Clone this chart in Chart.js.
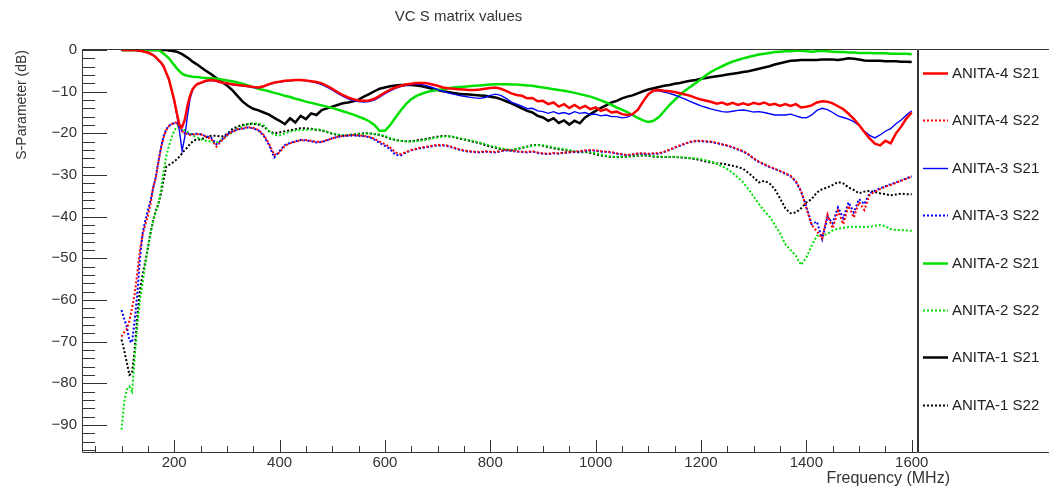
<!DOCTYPE html>
<html>
<head>
<meta charset="utf-8">
<title>VC S matrix values</title>
<script src="https://cdn.jsdelivr.net/npm/chart.js@4.4.1/dist/chart.umd.min.js"></script>
<style>
  html, body { margin: 0; padding: 0; background: #ffffff; }
</style>
</head>
<body>
<canvas id="chart" width="1049" height="494"></canvas>
<script>
// Sample frequencies (MHz): 5 MHz steps through the steep low end, 10 MHz after that
const freqMHz = [
  100, 105, 110, 115, 120, 125, 130, 135, 140, 145,
  150, 155, 160, 165, 170, 175, 180, 185, 190, 195,
  200, 205, 210, 215, 220, 225, 230, 235, 240, 245,
  250,
  260, 270, 280, 290, 300, 310, 320, 330, 340, 350,
  360, 370, 380, 390, 400, 410, 420, 430, 440, 450,
  460, 470, 480, 490, 500, 510, 520, 530, 540, 550,
  560, 570, 580, 590, 600, 610, 620, 630, 640, 650,
  660, 670, 680, 690, 700, 710, 720, 730, 740, 750,
  760, 770, 780, 790, 800, 810, 820, 830, 840, 850,
  860, 870, 880, 890, 900, 910, 920, 930, 940, 950,
  960, 970, 980, 990, 1000, 1010, 1020, 1030, 1040, 1050,
  1060, 1070, 1080, 1090, 1100, 1110, 1120, 1130, 1140, 1150,
  1160, 1170, 1180, 1190, 1200, 1210, 1220, 1230, 1240, 1250,
  1260, 1270, 1280, 1290, 1300, 1310, 1320, 1330, 1340, 1350,
  1360, 1370, 1380, 1390, 1400, 1410, 1420, 1430, 1440, 1450,
  1460, 1470, 1480, 1490, 1500, 1510, 1520, 1530, 1540, 1550,
  1560, 1570, 1580, 1590, 1600
];

// ANITA-4 S21 (dB)
const s21Anita4 = [
  0, 0, 0, 0, 0, 0, -0.1, -0.2, -0.3, -0.5,
  -0.6, -0.9, -1.2, -1.7, -2.4, -3.0, -3.9, -5.5, -7.0, -9.5,
  -12.0, -15.2, -18.0, -18.5, -16.8, -13.5, -11.0, -9.4, -8.6, -8.1,
  -7.9,
  -7.4, -7.2, -7.4, -7.8, -8.0, -8.2, -8.4, -8.5, -8.7, -8.9,
  -9.0, -8.7, -8.2, -7.8, -7.6, -7.4, -7.3, -7.2, -7.2, -7.3,
  -7.5, -7.7, -8.0, -8.6, -9.3, -10.1, -10.8, -11.4, -11.8, -12.1,
  -12.2, -12.1, -11.7, -11.0, -10.2, -9.5, -9.0, -8.6, -8.3, -8.1,
  -7.9, -7.9, -8.0, -8.3, -8.6, -9.0, -9.2, -9.3, -9.4, -9.5,
  -9.6, -9.6, -9.5, -9.3, -9.1, -9.0, -9.3, -9.8, -10.4, -10.8,
  -11.0, -11.6, -11.5, -12.3, -12.2, -13.0, -12.6, -13.6, -13.0, -13.9,
  -13.2, -14.0, -13.4, -14.2, -13.8, -14.6, -14.2, -15.0, -14.8, -15.4,
  -15.6, -15.4, -14.4, -12.4, -10.6, -9.7, -9.6, -9.8, -9.9, -10.1,
  -10.4, -10.7, -11.0, -11.5, -11.9, -12.2, -12.5, -12.9, -12.6, -13.1,
  -12.7, -13.2, -12.8, -13.2, -12.7, -13.0, -12.6, -13.2, -12.9, -13.4,
  -13.0, -13.4, -13.0, -13.8, -13.6, -13.3, -12.6, -12.3, -12.4, -12.8,
  -13.5, -14.2, -15.3, -16.5, -18.0, -19.7, -21.2, -22.5, -22.9, -21.8,
  -22.4, -20.0, -18.4, -16.4, -15.0
];

// ANITA-4 S22 (dB)
const s22Anita4 = [
  -68.8, -67.8, -67.0, -65.0, -62.0, -58.5, -53.5, -48.0, -44.4, -42.0,
  -39.8, -37.0, -33.0, -30.8, -27.0, -23.5, -21.0, -19.2, -18.3, -17.8,
  -17.5, -17.4, -18.3, -19.5, -20.0, -20.2, -20.4, -20.3, -20.2, -20.2,
  -20.2,
  -20.8, -21.3, -23.2, -21.8, -20.5, -19.6, -19.0, -18.8, -18.5, -18.7,
  -19.2, -20.4, -22.5, -25.2, -24.6, -23.0, -22.4, -22.0, -21.7, -21.6,
  -21.8, -22.0, -22.0, -21.6, -21.2, -20.8, -20.6, -20.5, -20.4, -20.5,
  -20.6, -20.8, -21.3, -22.0, -22.6, -23.4, -24.6, -25.0, -24.5, -24.0,
  -23.7, -23.4, -23.2, -23.0, -22.8, -22.8, -23.0, -23.4, -23.8, -24.1,
  -24.3, -24.4, -24.5, -24.3, -24.4, -24.5, -24.2, -24.0, -24.1, -24.3,
  -24.4, -24.5, -24.3, -24.6, -24.8, -24.9, -24.7, -24.8, -24.6, -24.5,
  -24.4, -24.3, -24.1, -24.0, -24.1, -24.3, -24.4, -24.5, -24.8, -25.0,
  -25.2, -25.0, -24.8, -24.8, -24.9, -24.8, -24.8, -24.4, -23.9, -23.4,
  -22.9, -22.4, -22.0, -21.8, -21.8, -21.9, -22.0, -22.3, -22.6, -22.9,
  -23.3, -23.8, -24.3, -25.0, -26.0, -26.8, -27.4, -28.0, -28.5, -29.0,
  -29.6, -30.2, -31.5, -33.8, -38.0, -42.0, -43.5, -45.2, -39.5, -42.8,
  -38.6, -41.8, -37.4, -40.2, -36.5, -38.4, -34.8, -34.0, -33.4, -32.8,
  -32.4, -31.9, -31.4, -30.9, -30.4
];

// ANITA-3 S21 (dB)
const s21Anita3 = [
  0, 0, 0, 0, 0, -0.1, -0.1, -0.2, -0.3, -0.5,
  -0.7, -1.0, -1.3, -1.8, -2.5, -3.2, -4.2, -5.6, -7.2, -9.6,
  -12.4, -15.6, -19.5, -24.2, -21.0, -16.0, -11.8, -9.6, -8.6, -8.2,
  -8.0,
  -7.5, -7.3, -7.5, -7.9, -8.1, -8.3, -8.5, -8.6, -8.8, -9.0,
  -9.1, -8.8, -8.3, -7.9, -7.7, -7.5, -7.4, -7.3, -7.3, -7.4,
  -7.6, -7.9, -8.3, -8.9, -9.6, -10.4, -11.1, -11.7, -12.1, -12.4,
  -12.5, -12.4, -12.0, -11.3, -10.5, -9.8, -9.2, -8.8, -8.5, -8.3,
  -8.2, -8.3, -8.6, -9.0, -9.5, -9.9, -10.3, -10.6, -10.9, -11.1,
  -11.3, -11.5, -11.6, -11.4, -10.9, -10.6, -10.9, -11.6, -12.5, -13.0,
  -13.5, -14.1, -14.0, -14.6, -14.8, -15.2, -14.8, -15.3, -15.0, -15.4,
  -14.8, -15.2, -15.0, -15.5, -15.4, -15.8, -15.6, -16.0, -16.0, -16.3,
  -16.1, -15.5, -14.2, -12.4, -10.6, -9.8, -9.8, -10.1, -10.4, -10.8,
  -11.3, -11.8, -12.4, -12.9, -13.4, -13.8, -14.2, -14.5, -14.8, -14.9,
  -14.7, -14.5, -14.4, -14.6, -14.9, -14.8, -15.0, -15.3, -15.6, -15.6,
  -15.6, -15.4, -15.8, -16.2, -16.3, -15.6, -14.5, -14.0, -14.3, -15.0,
  -15.8, -16.2, -16.6, -17.2, -18.1, -19.5, -20.5, -21.1, -20.4, -19.5,
  -18.9, -17.7, -16.8, -15.6, -14.6
];

// ANITA-3 S22 (dB)
const s22Anita3 = [
  -62.4, -64.5, -66.4, -69.8, -70.2, -65.0, -58.5, -50.0, -44.0, -41.0,
  -38.5, -36.2, -33.2, -30.5, -26.8, -23.3, -20.6, -19.0, -18.2, -17.8,
  -17.6, -17.6, -18.3, -19.4, -20.0, -20.0, -20.2, -20.2, -20.1, -20.1,
  -20.2,
  -20.7, -21.0, -22.6, -21.6, -20.3, -19.6, -19.1, -18.9, -18.6, -18.8,
  -19.3, -20.6, -22.8, -25.8, -24.3, -22.8, -22.3, -21.9, -21.6, -21.7,
  -21.9, -22.2, -22.1, -21.7, -21.2, -20.9, -20.7, -20.6, -20.5, -20.6,
  -20.7, -20.9, -21.5, -22.3, -23.0, -23.8, -25.2, -25.3, -24.6, -24.1,
  -23.8, -23.5, -23.3, -23.1, -22.9, -22.9, -23.1, -23.5, -23.9, -24.2,
  -24.4, -24.5, -24.6, -24.4, -24.5, -24.6, -24.3, -24.1, -24.2, -24.4,
  -24.5, -24.6, -24.4, -24.7, -24.9, -25.0, -24.8, -24.9, -24.7, -24.6,
  -24.5, -24.4, -24.2, -24.1, -24.2, -24.4, -24.5, -24.6, -24.9, -25.1,
  -25.3, -25.1, -24.9, -24.9, -25.0, -24.9, -24.9, -24.5, -24.0, -23.5,
  -23.0, -22.5, -22.1, -21.9, -21.9, -22.0, -22.1, -22.4, -22.7, -23.0,
  -23.4, -23.9, -24.4, -25.1, -26.1, -26.9, -27.5, -28.1, -28.6, -29.1,
  -29.7, -30.3, -31.6, -34.0, -37.6, -41.8, -41.2, -45.4, -40.0, -41.6,
  -37.8, -40.4, -36.6, -39.0, -35.8, -37.0, -34.4, -33.8, -33.2, -32.7,
  -32.2, -31.8, -31.3, -30.8, -30.3
];

// ANITA-2 S21 (dB)
const s21Anita2 = [
  0, 0, 0, 0, 0, 0, 0, 0, 0, 0,
  0, 0, 0, 0, 0, -0.4, -0.9, -1.4, -2.0, -2.8,
  -3.6, -4.4, -5.1, -5.7, -6.0, -6.2, -6.3, -6.4, -6.5, -6.5,
  -6.6,
  -6.7, -6.8, -6.9, -7.1, -7.3, -7.5, -7.8, -8.1, -8.5, -8.9,
  -9.3, -9.6, -9.9, -10.3, -10.6, -11.0, -11.3, -11.7, -12.0, -12.4,
  -12.7, -13.0, -13.3, -13.6, -13.9, -14.3, -14.7, -15.1, -15.5, -16.0,
  -16.5, -17.1, -18.0, -19.4, -19.4, -18.0, -16.2, -14.5, -13.0, -11.8,
  -11.0, -10.5, -10.1, -9.8, -9.6, -9.4, -9.2, -9.0, -8.9, -8.8,
  -8.7, -8.6, -8.5, -8.4, -8.3, -8.2, -8.2, -8.2, -8.3, -8.3,
  -8.4, -8.5, -8.6, -8.8, -9.0, -9.2, -9.4, -9.6, -9.8, -10.0,
  -10.3, -10.6, -10.9, -11.2, -11.6, -12.1, -12.6, -13.2, -13.8, -14.3,
  -14.9, -15.6, -16.3, -16.9, -17.3, -17.0, -16.1, -14.7, -13.2, -12.0,
  -10.8, -9.7, -8.8, -7.9, -7.0, -6.0, -5.2, -4.5, -3.9, -3.3,
  -2.8, -2.4, -2.0, -1.7, -1.4, -1.1, -0.9, -0.7, -0.5, -0.4,
  -0.3, -0.3, -0.2, -0.2, -0.3, -0.4, -0.3, -0.2, -0.3, -0.4,
  -0.5, -0.5, -0.6, -0.6, -0.7, -0.7, -0.7, -0.8, -0.8, -0.8,
  -0.9, -0.9, -0.9, -0.9, -1.0
];

// ANITA-2 S22 (dB)
const s22Anita2 = [
  -91.1, -84.5, -81.5, -80.8, -82.0, -74.0, -66.0, -60.0, -56.0, -51.5,
  -47.5, -44.0, -41.0, -39.0, -37.0, -33.5, -29.0, -25.5, -23.0, -21.0,
  -19.4, -18.4, -18.2, -18.8, -19.3, -19.7, -20.0, -20.4, -20.8, -21.1,
  -21.4,
  -21.8, -22.0, -22.2, -21.6, -20.6, -19.8, -18.8, -18.2, -17.8, -17.6,
  -17.7, -18.1, -19.4, -20.4, -20.5, -20.0, -19.6, -19.3, -19.2, -19.2,
  -19.1, -19.0, -19.2, -19.6, -20.0, -20.3, -20.4, -20.4, -20.3, -20.2,
  -20.1, -20.0, -20.1, -20.3, -20.6, -21.2, -21.6, -21.8, -21.9, -22.0,
  -21.9, -21.7, -21.5, -21.2, -21.0, -20.8, -20.7, -20.8, -21.1, -21.4,
  -21.6, -21.9, -22.2, -22.6, -23.0, -23.3, -23.6, -23.8, -24.0, -23.7,
  -23.4, -23.2, -23.0, -22.8, -22.9, -23.1, -23.4, -23.6, -23.8, -24.0,
  -24.3, -24.5, -24.4, -24.5, -24.8, -25.1, -25.4, -25.6, -25.6, -25.6,
  -25.5, -25.4, -25.3, -25.2, -25.3, -25.5, -25.6, -25.6, -25.6, -25.6,
  -25.7, -25.8, -25.9, -26.0, -26.2, -26.5, -26.8, -27.3, -27.9, -28.6,
  -29.5, -30.6, -31.8, -33.4, -35.2, -37.0, -38.6, -40.0, -42.0, -44.0,
  -46.6, -48.0, -49.4, -51.6, -49.8, -47.0, -44.6, -44.5, -44.2, -43.3,
  -42.9, -42.7, -42.5, -42.4, -42.4, -42.5, -42.4, -42.2, -42.0, -42.3,
  -43.0, -43.2, -43.2, -43.3, -43.4
];

// ANITA-1 S21 (dB)
const s21Anita1 = [
  0, 0, 0, 0, 0, 0, 0, 0, 0, 0,
  0, 0, 0, 0, 0, 0, 0, 0, -0.1, -0.2,
  -0.3, -0.4, -0.7, -1.0, -1.4, -1.8, -2.3, -2.8, -3.2, -3.6,
  -4.1,
  -5.0, -5.8, -6.7, -7.6, -8.5, -9.6, -11.0, -12.4, -13.4, -14.1,
  -14.5, -15.0, -15.5, -16.3, -17.0, -17.8, -16.4, -17.4, -15.8, -16.6,
  -15.2, -15.6, -14.4, -14.0, -13.6, -13.2, -12.8, -12.6, -12.3, -11.9,
  -11.2, -10.6, -9.9, -9.3, -9.0, -8.7, -8.5, -8.4, -8.4, -8.4,
  -8.5, -8.7, -9.0, -9.3, -9.6, -9.9, -10.1, -10.3, -10.5, -10.6,
  -10.7, -10.8, -10.9, -11.0, -11.2, -11.4, -11.8, -12.3, -12.8, -13.4,
  -14.0, -14.6, -15.0, -15.8, -16.2, -17.0, -16.4, -17.5, -16.9, -17.9,
  -17.0, -17.6, -16.2, -15.4, -14.6, -13.9, -13.3, -12.6, -12.2, -11.6,
  -11.2, -10.9, -10.4, -9.9, -9.5, -9.2, -8.9, -8.6, -8.4, -8.1,
  -7.9, -7.6, -7.4, -7.2, -6.9, -6.7, -6.5, -6.3, -6.1, -5.9,
  -5.7, -5.5, -5.3, -5.1, -4.8, -4.5, -4.2, -3.9, -3.5, -3.2,
  -2.9, -2.6, -2.5, -2.4, -2.4, -2.4, -2.4, -2.3, -2.3, -2.3,
  -2.4, -2.2, -2.0, -2.1, -2.3, -2.5, -2.6, -2.6, -2.6, -2.7,
  -2.7, -2.7, -2.8, -2.8, -2.9
];

// ANITA-1 S22 (dB)
const s22Anita1 = [
  -69.5, -72.0, -75.0, -78.0, -77.6, -72.0, -64.0, -57.5, -54.0, -51.0,
  -47.5, -44.0, -41.0, -38.5, -37.0, -34.5, -31.0, -28.0, -27.6, -27.2,
  -26.8, -26.2, -25.6, -24.8, -24.0, -23.4, -22.6, -22.0, -21.6, -21.5,
  -21.5,
  -21.0, -20.6, -20.6, -20.8, -20.2, -19.0, -18.4, -18.0, -17.8, -17.7,
  -17.9, -18.4, -19.5, -20.0, -19.8, -19.5, -19.3, -19.0, -18.8, -18.8,
  -18.9, -19.2, -19.3, -19.7, -20.1, -20.4, -20.5, -20.4, -20.3, -20.1,
  -20.0, -20.0, -20.2, -20.4, -20.8, -21.3, -21.6, -21.8, -21.9, -21.9,
  -21.7, -21.5, -21.3, -21.0, -20.8, -20.6, -20.7, -20.9, -21.2, -21.5,
  -21.8, -22.1, -22.4, -22.8, -23.2, -23.5, -23.8, -24.0, -24.1, -23.8,
  -23.5, -23.2, -22.8, -22.8, -23.0, -23.3, -23.6, -23.8, -24.0, -24.2,
  -24.4, -24.6, -24.5, -24.7, -25.0, -25.3, -25.5, -25.7, -25.7, -25.7,
  -25.6, -25.5, -25.4, -25.3, -25.4, -25.6, -25.7, -25.7, -25.7, -25.7,
  -25.8, -25.9, -26.0, -26.2, -26.5, -26.8, -27.0, -27.2, -27.3, -27.5,
  -27.8, -28.1, -28.5, -29.5, -30.6, -31.8, -31.4, -32.0, -33.4, -35.6,
  -38.0, -39.2, -39.0, -38.0, -36.6, -35.8, -34.2, -33.4, -33.0, -32.4,
  -31.7, -32.0, -33.0, -33.6, -34.4, -34.0, -33.8, -34.1, -34.4, -34.6,
  -34.9, -34.7, -34.5, -34.6, -34.6
];

// Axis ranges, ticks and tick labels
const X_MIN = 25, X_MAX = 1610;
const Y_MIN = -96.5, Y_MAX = 0.24;
const freqTicks = [200, 400, 600, 800, 1000, 1200, 1400, 1600];
const freqTickLabels = ['200', '400', '600', '800', '1000', '1200', '1400', '1600'];
const freqMinorTicks = [50, 100, 150, 250, 300, 350, 450, 500, 550, 650, 700, 750,
  850, 900, 950, 1050, 1100, 1150, 1250, 1300, 1350, 1450, 1500, 1550];
const dbTicks = [0, -10, -20, -30, -40, -50, -60, -70, -80, -90];
const dbTickLabels = ['0', '\u221210', '\u221220', '\u221230', '\u221240', '\u221250',
  '\u221260', '\u221270', '\u221280', '\u221290'];
const dbMinorTicks = [
  -2, -4, -6, -8, -12, -14, -16, -18, -22, -24, -26, -28, -32, -34, -36, -38,
  -42, -44, -46, -48, -52, -54, -56, -58, -62, -64, -66, -68, -72, -74, -76, -78,
  -82, -84, -86, -88, -92, -94, -96
];

const FONT = '"Liberation Sans", Arial, Helvetica, sans-serif';
const TEXT = '#333333';
const AXIS = '#333333';

const seriesDefs = [
  { label: 'ANITA-4 S21', values: s21Anita4, color: '#ff0000', width: 2.5, dash: [] },
  { label: 'ANITA-4 S22', values: s22Anita4, color: '#ff0000', width: 2, dash: [2, 2] },
  { label: 'ANITA-3 S21', values: s21Anita3, color: '#0000ff', width: 1.4, dash: [] },
  { label: 'ANITA-3 S22', values: s22Anita3, color: '#0000ff', width: 2, dash: [2, 2] },
  { label: 'ANITA-2 S21', values: s21Anita2, color: '#00e000', width: 2.5, dash: [] },
  { label: 'ANITA-2 S22', values: s22Anita2, color: '#00e000', width: 2, dash: [2, 2] },
  { label: 'ANITA-1 S21', values: s21Anita1, color: '#000000', width: 2.5, dash: [] },
  { label: 'ANITA-1 S22', values: s22Anita1, color: '#000000', width: 2, dash: [2, 2] }
];

const chartDatasets = seriesDefs.map(s => ({
  label: s.label,
  data: freqMHz.map((f, i) => ({ x: f, y: s.values[i] })),
  borderColor: s.color,
  backgroundColor: s.color,
  borderWidth: s.width,
  borderDash: s.dash,
  pointRadius: 0,
  tension: 0,
  fill: false
}));

// Inward ticks as 1px filled bars, placed by the axis ranges inside the chart area
function paintTicks(ctx, a) {
  const yPix = v => a.top + (Y_MAX - v) / (Y_MAX - Y_MIN) * (a.bottom - a.top);
  const xPix = f => a.left + (f - X_MIN) / (X_MAX - X_MIN) * (a.right - a.left);
  const L = Math.round(a.left);
  const B = Math.round(a.bottom);
  ctx.save();
  ctx.globalAlpha = 1;
  ctx.globalCompositeOperation = 'source-over';
  ctx.fillStyle = AXIS;
  dbTicks.forEach(v => ctx.fillRect(L, Math.round(yPix(v)), 25, 1));
  dbMinorTicks.forEach(v => ctx.fillRect(L, Math.round(yPix(v)), 13, 1));
  freqTicks.forEach(f => ctx.fillRect(Math.round(xPix(f)), B - 12, 1, 12));
  freqMinorTicks.forEach(f => ctx.fillRect(Math.round(xPix(f)), B - 6, 1, 6));
  ctx.restore();
}

// Frame, boxed legend on the right, axis titles, then the ticks
const decorations = {
  id: 'decorations',
  afterDraw(c) {
    const ctx = c.ctx;
    const a = c.chartArea;
    const L = Math.round(a.left), R = Math.round(a.right);
    const T = Math.round(a.top), B = Math.round(a.bottom);
    const LL = R + 1;

    ctx.save();
    ctx.setLineDash([]);
    ctx.strokeStyle = AXIS;
    ctx.lineWidth = 1;
    ctx.beginPath();
    ctx.rect(L + 0.5, T + 0.5, R - L, B - T);
    ctx.stroke();
    ctx.beginPath();
    ctx.rect(LL + 0.5, T + 0.5, 300, B - T);
    ctx.stroke();

    const rowStep = 47.4;
    c.data.datasets.forEach((ds, i) => {
      const yy = Math.round(T + 24 + i * rowStep) + 0.5;
      ctx.setLineDash(ds.borderDash || []);
      ctx.lineWidth = ds.borderWidth;
      ctx.strokeStyle = ds.borderColor;
      ctx.beginPath();
      ctx.moveTo(LL + 5, yy);
      ctx.lineTo(LL + 30, yy);
      ctx.stroke();
      ctx.setLineDash([]);
      ctx.fillStyle = '#222222';
      ctx.font = '15px ' + FONT;
      ctx.textAlign = 'left';
      ctx.textBaseline = 'middle';
      ctx.fillText(ds.label, LL + 34, yy);
    });

    ctx.fillStyle = TEXT;
    ctx.font = '16px ' + FONT;
    ctx.textAlign = 'right';
    ctx.textBaseline = 'middle';
    ctx.fillText('Frequency (MHz)', R + 33, B + 27);
    ctx.save();
    ctx.translate(22, T + 1);
    ctx.rotate(-Math.PI / 2);
    ctx.font = '14px ' + FONT;
    ctx.fillText('S-Parameter (dB)', 0, 0);
    ctx.restore();
    ctx.restore();

    paintTicks(ctx, a);
  }
};

new Chart(document.getElementById('chart'), {
  type: 'line',
  data: { datasets: chartDatasets },
  options: {
    responsive: false,
    animation: false,
    devicePixelRatio: 1,
    layout: { padding: { left: 0, right: 132, top: 0, bottom: 0 } },
    plugins: {
      legend: { display: false },
      tooltip: { enabled: false },
      title: {
        display: true,
        text: 'VC S matrix values',
        color: TEXT,
        font: { family: FONT, size: 15, weight: 'normal' },
        padding: { top: 8, bottom: 23 }
      }
    },
    scales: {
      x: {
        type: 'linear',
        min: X_MIN,
        max: X_MAX,
        grid: { display: false, drawTicks: false },
        border: { display: false },
        afterBuildTicks: s => { s.ticks = freqTicks.map(v => ({ value: v })); },
        afterFit: s => { s.height = 42; },
        ticks: {
          padding: 2,
          color: TEXT,
          maxRotation: 0,
          autoSkip: false,
          font: { family: FONT, size: 15 },
          callback: (v, i) => freqTickLabels[i]
        }
      },
      y: {
        type: 'linear',
        min: Y_MIN,
        max: Y_MAX,
        grid: { display: false, drawTicks: false },
        border: { display: false },
        afterBuildTicks: s => { s.ticks = dbTicks.map(v => ({ value: v })); },
        afterFit: s => { s.width = 82; },
        ticks: {
          padding: 5,
          color: TEXT,
          autoSkip: false,
          font: { family: FONT, size: 15 },
          callback: (v, i) => dbTickLabels[i]
        }
      }
    }
  },
  plugins: [decorations]
});
</script>
</body>
</html>
